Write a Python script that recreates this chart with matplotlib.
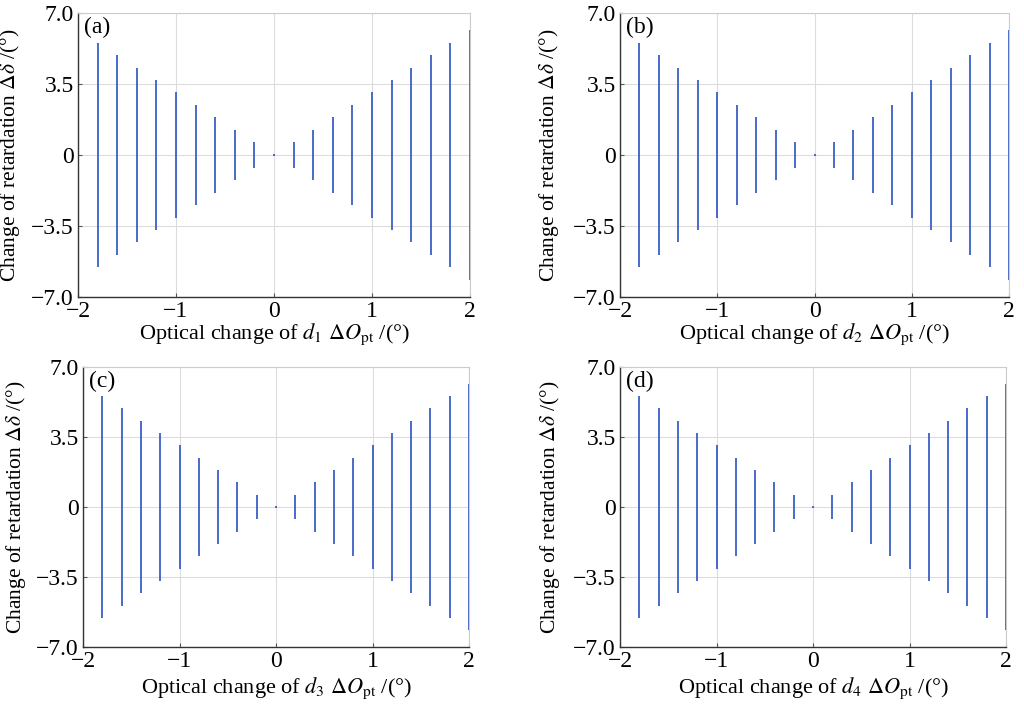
import matplotlib
matplotlib.use("Agg")
import matplotlib.pyplot as plt

# offsets of d_i (deg) and the half spread of the retardation change (deg)
x_offsets = [-1.8, -1.6, -1.4, -1.2, -1.0, -0.8, -0.6, -0.4, -0.2, 0.0,
             0.2, 0.4, 0.6, 0.8, 1.0, 1.2, 1.4, 1.6, 1.8, 2.0]
spread_a = [5.53, 4.94, 4.31, 3.70, 3.09, 2.47, 1.86, 1.23, 0.62, 0.03,
            0.62, 1.23, 1.86, 2.47, 3.09, 3.70, 4.31, 4.94, 5.53, 6.17]
spread_b = [5.53, 4.94, 4.31, 3.70, 3.09, 2.47, 1.86, 1.23, 0.62, 0.03,
            0.62, 1.23, 1.86, 2.47, 3.09, 3.70, 4.31, 4.94, 5.53, 6.17]
spread_c = [5.53, 4.94, 4.31, 3.70, 3.09, 2.47, 1.86, 1.23, 0.62, 0.03,
            0.62, 1.23, 1.86, 2.47, 3.09, 3.70, 4.31, 4.94, 5.53, 6.17]
spread_d = [5.53, 4.94, 4.31, 3.70, 3.09, 2.47, 1.86, 1.23, 0.62, 0.03,
            0.62, 1.23, 1.86, 2.47, 3.09, 3.70, 4.31, 4.94, 5.53, 6.17]

panel_tags = ["(a)", "(b)", "(c)", "(d)"]
spreads = [spread_a, spread_b, spread_c, spread_d]
x_ticks = [-2, -1, 0, 1, 2]
x_ticklabels = ["\u22122", "\u22121", "0", "1", "2"]
y_ticks = [-7, -3.5, 0, 3.5, 7]
y_ticklabels = ["\u22127.0", "\u22123.5", "0", "3.5", "7.0"]

plt.rcParams['font.family'] = ['Liberation Serif', 'DejaVu Serif']
plt.rcParams['mathtext.fontset'] = 'stix'

fig = plt.figure(figsize=(10.24, 7.06), dpi=100)

# axes boxes in pixels: left, top, right, bottom
boxes = [(78, 13, 470, 297), (620, 13, 1009, 297),
         (83, 367, 469, 647), (620, 367, 1006, 647)]
ylab_x = [-0.142, -0.152, -0.143, -0.150]
xlab_y = [-0.088, -0.088, -0.102, -0.102]
W, H = 1024, 706
line_col = '#3a5fc4'

for i, (l, t, r, b) in enumerate(boxes):
    ax = fig.add_axes([l / W, 1 - b / H, (r - l) / W, (b - t) / H])
    s = spreads[i]
    lo = [-v for v in s]
    ax.vlines(x_offsets, lo, s, colors=line_col, linewidth=1.3)
    ax.set_xlim(-2, 2)
    ax.set_ylim(-7, 7)
    ax.set_xticks(x_ticks)
    ax.set_xticklabels(x_ticklabels)
    ax.set_yticks(y_ticks)
    ax.set_yticklabels(y_ticklabels)
    ax.tick_params(labelsize=17, length=3, direction='in', width=0.8,
                   color='#555555', pad=3)
    ax.grid(True, color='#dcdcdc', linestyle='-', linewidth=0.8)
    for side in ['top', 'right']:
        ax.spines[side].set_color('#cccccc')
        ax.spines[side].set_linewidth(0.8)
    for side in ['left', 'bottom']:
        ax.spines[side].set_color('#333333')
        ax.spines[side].set_linewidth(1.0)
    ax.set_axisbelow(True)
    ax.set_ylabel("Change of retardation $\\Delta\\delta$ /(\u00b0)", fontsize=15.5)
    ax.yaxis.set_label_coords(ylab_x[i], 0.5)
    ax.set_xlabel("Optical change of $d_{%d}$ $\\Delta O_{\\rm pt}$ /(\u00b0)" % (i + 1),
                  fontsize=16)
    ax.xaxis.set_label_coords(0.5, xlab_y[i])
    ax.text(0.015, 0.985, panel_tags[i], transform=ax.transAxes,
            fontsize=17, va='top', ha='left')

plt.savefig("out.png", dpi=100)
